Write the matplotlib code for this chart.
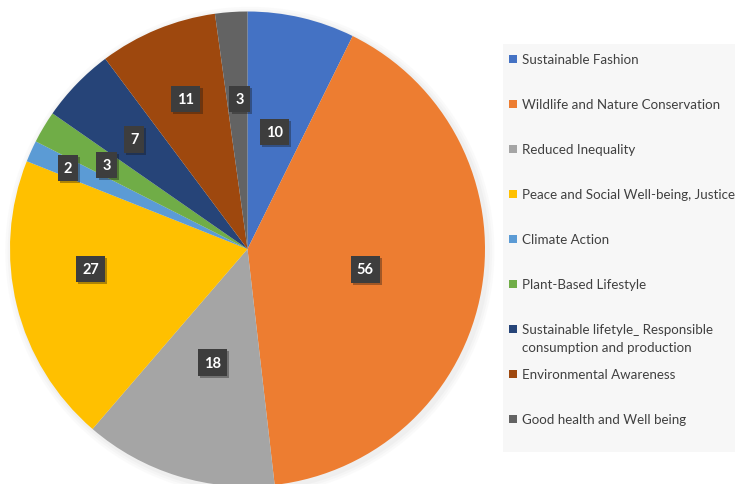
import matplotlib
matplotlib.use("Agg")
import matplotlib.pyplot as plt
import matplotlib.patheffects as pe
from matplotlib.patches import Circle, Rectangle
import numpy as np

categories = [
    "Sustainable Fashion",
    "Wildlife and Nature Conservation",
    "Reduced Inequality",
    "Peace and Social Well-being, Justice",
    "Climate Action",
    "Plant-Based Lifestyle",
    "Sustainable lifetyle_ Responsible\nconsumption and production",
    "Environmental Awareness",
    "Good health and Well being",
]
values = [10, 56, 18, 27, 2, 3, 7, 11, 3]
colors = ["#4472C4", "#ED7D31", "#A5A5A5", "#FFC000", "#5B9BD5",
          "#70AD47", "#264478", "#9E480E", "#636363"]
# label placement (fraction of radius, angle nudge in degrees) -- style
label_radii = [0.505, 0.503, 0.50, 0.665, 0.83, 0.69, 0.664, 0.683, 0.632]
label_nudge = [0, 0, 0, -6.6, 0, 0, 0, 0, -1]

W, H = 735, 485
fig = plt.figure(figsize=(W / 100, H / 100), dpi=100)
fig.patch.set_facecolor("white")

cx, cy, r = 247.5, 250, 237.5
ax = fig.add_axes([(cx - r) / W, (H - cy - r) / H, 2 * r / W, 2 * r / H])

wedges, _ = ax.pie(values, colors=colors, startangle=90, counterclock=False,
                   radius=1, wedgeprops=dict(linewidth=0))
ax.set_xlim(-1, 1)
ax.set_ylim(-1, 1)
ax.set_aspect("equal")
ax.axis("off")
for w in wedges:
    w.set_clip_on(False)

# soft shadow around pie
for k, a in [(1.03, 0.05), (1.02, 0.06), (1.01, 0.08)]:
    ax.add_patch(Circle((0.01, -0.01), k, color="#b0b0b0", alpha=a, lw=0, zorder=0, clip_on=False))

for w, v, lr, nd in zip(wedges, values, label_radii, label_nudge):
    ang = np.deg2rad((w.theta1 + w.theta2) / 2 + nd)
    x, y = lr * np.cos(ang), lr * np.sin(ang)
    t = ax.text(x, y, str(v), ha="center", va="center", color="white",
                fontsize=10.5, fontweight="bold", family="Lato",
                bbox=dict(boxstyle="square,pad=0.42", fc="#3d3d3d", ec="none"))
    t.get_bbox_patch().set_path_effects([pe.withSimplePatchShadow(offset=(1.5, -1.5), alpha=0.35)])

# legend panel
fig.patches.append(Rectangle((503 / W, (H - 453) / H), (W - 503) / W, (453 - 45) / H,
                             transform=fig.transFigure, fc="#f7f7f7", ec="none", zorder=0))
y = 60
for i, (cat, col) in enumerate(zip(categories, colors)):
    fig.patches.append(Rectangle((509 / W, (H - y - 4) / H), 8 / W, 8 / H,
                                 transform=fig.transFigure, fc=col, ec="none"))
    if "\n" in cat:
        fig.text(522 / W, (H - y + 6) / H, cat, ha="left", va="top",
                 fontsize=9.6, family="Lato", color="#404040", linespacing=1.55)
    else:
        fig.text(522 / W, (H - y) / H, cat, ha="left", va="center",
                 fontsize=9.6, family="Lato", color="#404040")
    y += 45

fig.savefig("out.png", dpi=100)
